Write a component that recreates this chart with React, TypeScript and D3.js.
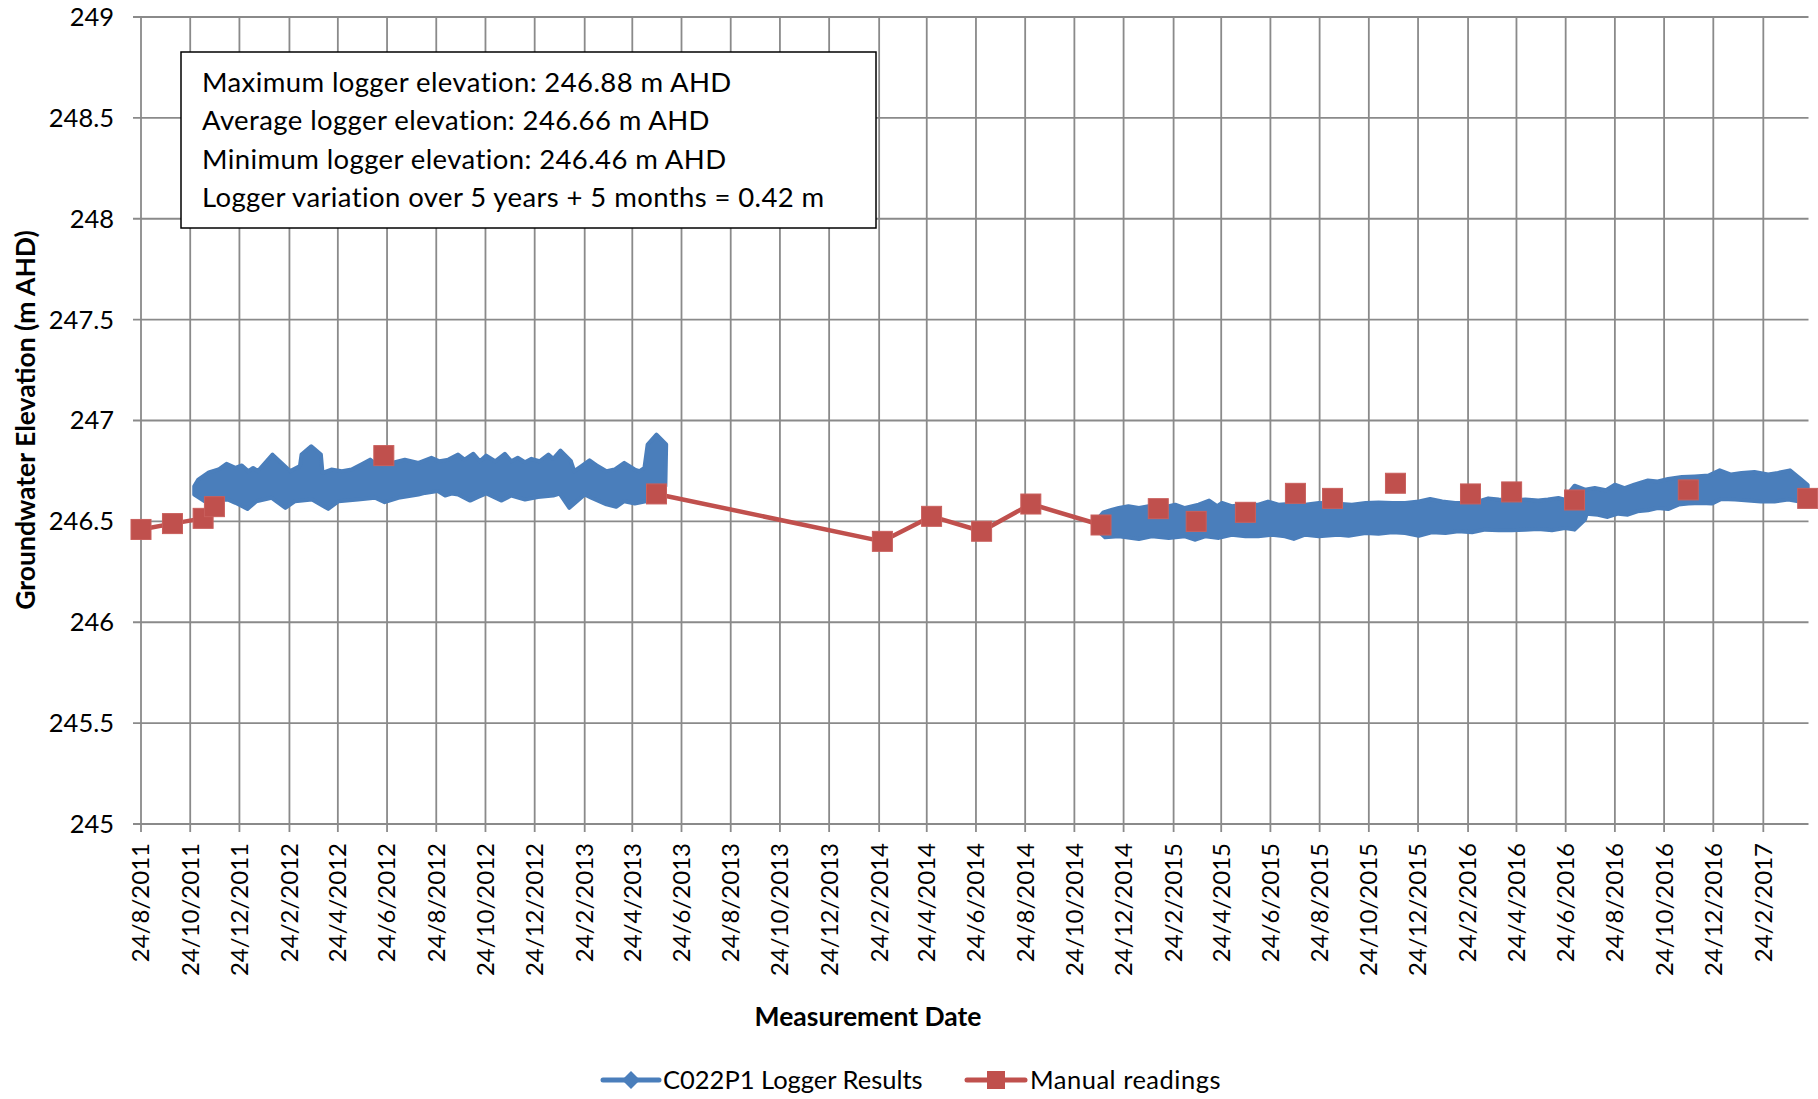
import React from "react";
import * as d3 from "d3";

const parseISO = d3.utcParse("%Y-%m-%d");
const parseDMY = d3.utcParse("%d/%m/%Y");

// axis setup
const xDomain = ["2011-08-24", "2017-04-21"];
const yTicks = [245, 245.5, 246, 246.5, 247, 247.5, 248, 248.5, 249];
const xTickLabels = [
  "24/8/2011", "24/10/2011", "24/12/2011", "24/2/2012", "24/4/2012", "24/6/2012",
  "24/8/2012", "24/10/2012", "24/12/2012", "24/2/2013", "24/4/2013", "24/6/2013",
  "24/8/2013", "24/10/2013", "24/12/2013", "24/2/2014", "24/4/2014", "24/6/2014",
  "24/8/2014", "24/10/2014", "24/12/2014", "24/2/2015", "24/4/2015", "24/6/2015",
  "24/8/2015", "24/10/2015", "24/12/2015", "24/2/2016", "24/4/2016", "24/6/2016",
  "24/8/2016", "24/10/2016", "24/12/2016", "24/2/2017",
];

const statsLines = [
  "Maximum logger elevation: 246.88 m AHD",
  "Average logger elevation: 246.66 m AHD",
  "Minimum logger elevation: 246.46 m AHD",
  "Logger variation over 5 years + 5 months = 0.42 m",
];

// logger band (dense diamonds) - upper / lower edge of the band, first run
const loggerUpper1: [string, number][] = [
  ["2011-10-29", 246.674], ["2011-11-03", 246.707], ["2011-11-16", 246.743], ["2011-11-28", 246.757],
  ["2011-12-08", 246.785], ["2011-12-19", 246.765], ["2011-12-27", 246.777], ["2012-01-04", 246.749],
  ["2012-01-10", 246.765], ["2012-01-16", 246.749], ["2012-02-03", 246.831], ["2012-02-16", 246.782],
  ["2012-02-25", 246.749], ["2012-03-08", 246.774], ["2012-03-10", 246.831], ["2012-03-22", 246.872],
  ["2012-04-03", 246.831], ["2012-04-05", 246.740], ["2012-04-16", 246.757], ["2012-04-29", 246.749],
  ["2012-05-11", 246.757], ["2012-05-23", 246.782], ["2012-06-03", 246.806], ["2012-06-13", 246.774],
  ["2012-06-30", 246.790], ["2012-07-16", 246.806], ["2012-08-02", 246.790], ["2012-08-18", 246.815],
  ["2012-08-28", 246.798], ["2012-09-08", 246.806], ["2012-09-20", 246.831], ["2012-09-28", 246.806],
  ["2012-10-09", 246.835], ["2012-10-17", 246.798], ["2012-10-25", 246.826], ["2012-11-05", 246.798],
  ["2012-11-17", 246.835], ["2012-11-25", 246.798], ["2012-12-03", 246.815], ["2012-12-12", 246.793],
  ["2012-12-20", 246.810], ["2012-12-30", 246.798], ["2013-01-10", 246.831], ["2013-01-16", 246.810],
  ["2013-01-25", 246.851], ["2013-02-07", 246.798], ["2013-02-11", 246.749], ["2013-02-20", 246.774],
  ["2013-03-02", 246.803], ["2013-03-12", 246.774], ["2013-03-23", 246.749], ["2013-04-02", 246.757],
  ["2013-04-14", 246.790], ["2013-04-27", 246.757], ["2013-05-03", 246.749], ["2013-05-09", 246.765],
  ["2013-05-13", 246.881], ["2013-05-24", 246.930], ["2013-06-05", 246.881],
];
const loggerLower1: [string, number][] = [
  ["2011-10-29", 246.633], ["2011-11-11", 246.600], ["2011-12-10", 246.608], ["2011-12-19", 246.592],
  ["2012-01-03", 246.562], ["2012-01-14", 246.600], ["2012-02-02", 246.617], ["2012-02-19", 246.567],
  ["2012-03-02", 246.600], ["2012-03-23", 246.608], ["2012-04-12", 246.562], ["2012-04-25", 246.600],
  ["2012-05-19", 246.608], ["2012-06-09", 246.617], ["2012-06-21", 246.595], ["2012-07-08", 246.617],
  ["2012-08-02", 246.633], ["2012-08-10", 246.641], ["2012-08-26", 246.650], ["2012-09-04", 246.628],
  ["2012-09-12", 246.638], ["2012-09-20", 246.633], ["2012-10-05", 246.603], ["2012-10-15", 246.621],
  ["2012-10-25", 246.638], ["2012-11-13", 246.603], ["2012-11-25", 246.628], ["2012-12-12", 246.608],
  ["2012-12-28", 246.621], ["2013-01-16", 246.628], ["2013-01-24", 246.638], ["2013-02-05", 246.567],
  ["2013-02-24", 246.633], ["2013-03-04", 246.617], ["2013-03-23", 246.584], ["2013-04-04", 246.572],
  ["2013-04-14", 246.600], ["2013-04-27", 246.589], ["2013-05-11", 246.600], ["2013-06-04", 246.674],
];

// second run of the logger
const loggerUpper2: [string, number][] = [
  ["2014-11-23", 246.517], ["2014-11-29", 246.545], ["2014-12-10", 246.558], ["2014-12-18", 246.566],
  ["2014-12-30", 246.575], ["2015-01-12", 246.566], ["2015-01-24", 246.575], ["2015-02-18", 246.575],
  ["2015-02-26", 246.583], ["2015-03-10", 246.566], ["2015-03-27", 246.583], ["2015-04-09", 246.603],
  ["2015-04-19", 246.575], ["2015-04-25", 246.591], ["2015-05-07", 246.575], ["2015-05-24", 246.583],
  ["2015-06-09", 246.583], ["2015-06-21", 246.598], ["2015-07-04", 246.583], ["2015-07-21", 246.588],
  ["2015-08-06", 246.583], ["2015-08-23", 246.591], ["2015-09-16", 246.588], ["2015-10-03", 246.583],
  ["2015-10-20", 246.591], ["2015-11-05", 246.594], ["2015-11-22", 246.591], ["2015-12-08", 246.591],
  ["2015-12-25", 246.599], ["2016-01-08", 246.611], ["2016-01-23", 246.599], ["2016-02-08", 246.591],
  ["2016-02-25", 246.591], ["2016-03-08", 246.599], ["2016-03-20", 246.614], ["2016-04-02", 246.608],
  ["2016-04-18", 246.604], ["2016-05-05", 246.608], ["2016-05-21", 246.603], ["2016-06-02", 246.608],
  ["2016-06-15", 246.616], ["2016-06-23", 246.608], ["2016-07-01", 246.657], ["2016-07-05", 246.677],
  ["2016-07-18", 246.657], ["2016-07-30", 246.665], ["2016-08-13", 246.654], ["2016-08-24", 246.682],
  ["2016-09-05", 246.665], ["2016-09-17", 246.682], ["2016-10-04", 246.703], ["2016-10-16", 246.698],
  ["2016-10-29", 246.710], ["2016-11-15", 246.720], ["2016-12-01", 246.723], ["2016-12-18", 246.727],
  ["2017-01-01", 246.753], ["2017-01-15", 246.732], ["2017-01-28", 246.740], ["2017-02-13", 246.745],
  ["2017-03-02", 246.732], ["2017-03-14", 246.740], ["2017-03-29", 246.753], ["2017-04-12", 246.707],
  ["2017-04-20", 246.680],
];
const loggerLower2: [string, number][] = [
  ["2014-11-23", 246.451], ["2014-12-01", 246.421], ["2014-12-18", 246.426], ["2015-01-12", 246.413],
  ["2015-01-28", 246.426], ["2015-02-18", 246.418], ["2015-03-10", 246.426], ["2015-03-23", 246.409],
  ["2015-04-04", 246.426], ["2015-04-21", 246.418], ["2015-05-07", 246.434], ["2015-05-24", 246.426],
  ["2015-06-09", 246.426], ["2015-06-26", 246.434], ["2015-07-12", 246.426], ["2015-07-23", 246.413],
  ["2015-08-06", 246.434], ["2015-08-23", 246.426], ["2015-09-16", 246.434], ["2015-09-29", 246.429],
  ["2015-10-20", 246.442], ["2015-11-05", 246.439], ["2015-11-22", 246.446], ["2015-12-08", 246.442],
  ["2015-12-25", 246.429], ["2016-01-10", 246.446], ["2016-01-27", 246.442], ["2016-02-12", 246.451],
  ["2016-02-29", 246.446], ["2016-03-16", 246.459], ["2016-04-02", 246.456], ["2016-04-18", 246.456],
  ["2016-05-05", 246.459], ["2016-05-21", 246.462], ["2016-06-07", 246.456], ["2016-06-23", 246.467],
  ["2016-07-05", 246.459], ["2016-07-18", 246.509], ["2016-07-20", 246.538], ["2016-08-03", 246.533],
  ["2016-08-15", 246.522], ["2016-08-28", 246.538], ["2016-09-09", 246.533], ["2016-09-21", 246.550],
  ["2016-10-04", 246.555], ["2016-10-16", 246.566], ["2016-10-29", 246.561], ["2016-11-11", 246.583],
  ["2016-11-23", 246.588], ["2016-12-09", 246.591], ["2016-12-22", 246.588], ["2017-01-03", 246.611],
  ["2017-01-20", 246.608], ["2017-02-05", 246.604], ["2017-02-21", 246.599], ["2017-03-10", 246.599],
  ["2017-03-27", 246.608], ["2017-04-08", 246.599], ["2017-04-20", 246.591],
];

// manual readings; null = blank cell (Excel leaves a gap in the line)
const manualReadings: ([string, number] | null)[] = [
  ["2011-08-24", 246.46], ["2011-10-02", 246.489], ["2011-11-09", 246.515], ["2011-11-23", 246.573], null,
  ["2012-06-20", 246.826], null,
  ["2013-05-24", 246.636], ["2014-02-28", 246.401], ["2014-04-30", 246.525], ["2014-07-01", 246.451],
  ["2014-08-31", 246.586], ["2014-11-26", 246.482], null,
  ["2015-02-05", 246.563], null, ["2015-03-24", 246.5], null, ["2015-05-24", 246.545], null,
  ["2015-07-25", 246.639], null, ["2015-09-09", 246.614], null, ["2015-11-26", 246.689], null,
  ["2016-02-27", 246.636], null, ["2016-04-18", 246.646], null, ["2016-07-05", 246.606], null,
  ["2016-11-23", 246.656], null, ["2017-04-20", 246.614],
];

const BLUE = "#4a7ebb";
const RED = "#c0504d";
const GRID = "#8a8a8a";
const FONT = "Lato, 'Liberation Sans', sans-serif";

const plot = { left: 141, right: 1808.5, top: 17, bottom: 824 };

export default function App() {
  const x = d3.scaleUtc()
    .domain(xDomain.map((d) => parseISO(d) as Date))
    .range([plot.left, plot.right]);
  const y = d3.scaleLinear().domain([245, 249]).range([plot.bottom, plot.top]);

  const line = d3.line<[string, number]>()
    .x((d) => x(parseISO(d[0]) as Date))
    .y((d) => y(d[1]));

  // closed outline: upper edge forwards, lower edge back
  const band = (upper: [string, number][], lower: [string, number][]) =>
    line(upper.concat(lower.slice().reverse())) + "Z";

  const manualLine = d3.line<[string, number] | null>()
    .defined((d) => d !== null)
    .x((d) => x(parseISO(d![0]) as Date))
    .y((d) => y(d![1]));

  const manualPts = manualReadings.filter((d) => d !== null) as [string, number][];
  const xTicks = xTickLabels.map((s) => ({ label: s, date: parseDMY(s) as Date }));
  const sq = 10;

  return (
    <svg width={1818} height={1099} style={{ position: "absolute", left: 0, top: 0, background: "#fff" }}
      fontFamily={FONT}>
      {/* horizontal gridlines + ticks */}
      {yTicks.map((v) => (
        <line key={"h" + v} x1={plot.left - 8} x2={plot.right} y1={y(v)} y2={y(v)}
          stroke={GRID} strokeWidth={1.8} />
      ))}
      {/* vertical gridlines + ticks */}
      {xTicks.map((t) => (
        <line key={"v" + t.label} x1={x(t.date)} x2={x(t.date)} y1={plot.top} y2={plot.bottom + 8}
          stroke={GRID} strokeWidth={1.8} />
      ))}

      {/* logger results band */}
      <path d={band(loggerUpper1, loggerLower1)} fill={BLUE} stroke={BLUE} strokeWidth={4} strokeLinejoin="round" />
      <path d={band(loggerUpper2, loggerLower2)} fill={BLUE} stroke={BLUE} strokeWidth={4} strokeLinejoin="round" />

      {/* manual readings */}
      <path d={manualLine(manualReadings) || ""} fill="none" stroke={RED} strokeWidth={4.5} strokeLinejoin="round" />
      {manualPts.map((d, i) => (
        <rect key={"m" + i} x={x(parseISO(d[0]) as Date) - sq} y={y(d[1]) - sq} width={sq * 2} height={sq * 2}
          fill={RED} stroke="#c95f5c" strokeWidth={1} />
      ))}

      {/* y axis labels */}
      {yTicks.map((v) => (
        <text key={"yl" + v} x={114} y={y(v)} dy="0.35em" textAnchor="end" fontSize={25.5} fill="#000">
          {String(v)}
        </text>
      ))}
      {/* x axis labels */}
      {xTicks.map((t) => (
        <text key={"xl" + t.label} transform={`translate(${x(t.date)},843) rotate(-90)`} dy="0.35em"
          textAnchor="end" fontSize={24} fill="#000">
          {t.label}
        </text>
      ))}

      {/* axis titles */}
      <text transform="translate(25.5,420) rotate(-90)" textAnchor="middle" dy="0.35em" fontSize={26.5}
        fontWeight="bold">Groundwater Elevation (m AHD)</text>
      <text x={868} y={1017} textAnchor="middle" dy="0.35em" fontSize={26.5} fontWeight="bold">Measurement Date</text>

      {/* stats box */}
      <rect x={181} y={52} width={695} height={176} fill="#fff" stroke="#000" strokeWidth={1.5} />
      {statsLines.map((s, i) => (
        <text key={"s" + i} x={202} y={82.3 + i * 38.3} dy="0.35em" fontSize={27.5} letterSpacing={0.4}>{s}</text>
      ))}

      {/* legend */}
      <g>
        <line x1={603} x2={659} y1={1080} y2={1080} stroke={BLUE} strokeWidth={5} strokeLinecap="round" />
        <path d="M631,1071 L640,1080 L631,1089 L622,1080 Z" fill={BLUE} />
        <text x={663} y={1080} dy="0.35em" fontSize={25.5}>C022P1 Logger Results</text>
        <line x1={967} x2={1025} y1={1080} y2={1080} stroke={RED} strokeWidth={5} strokeLinecap="round" />
        <rect x={987} y={1071} width={18} height={18} fill={RED} />
        <text x={1030} y={1080} dy="0.35em" fontSize={25.5} letterSpacing={0.5}>Manual readings</text>
      </g>
    </svg>
  );
}
